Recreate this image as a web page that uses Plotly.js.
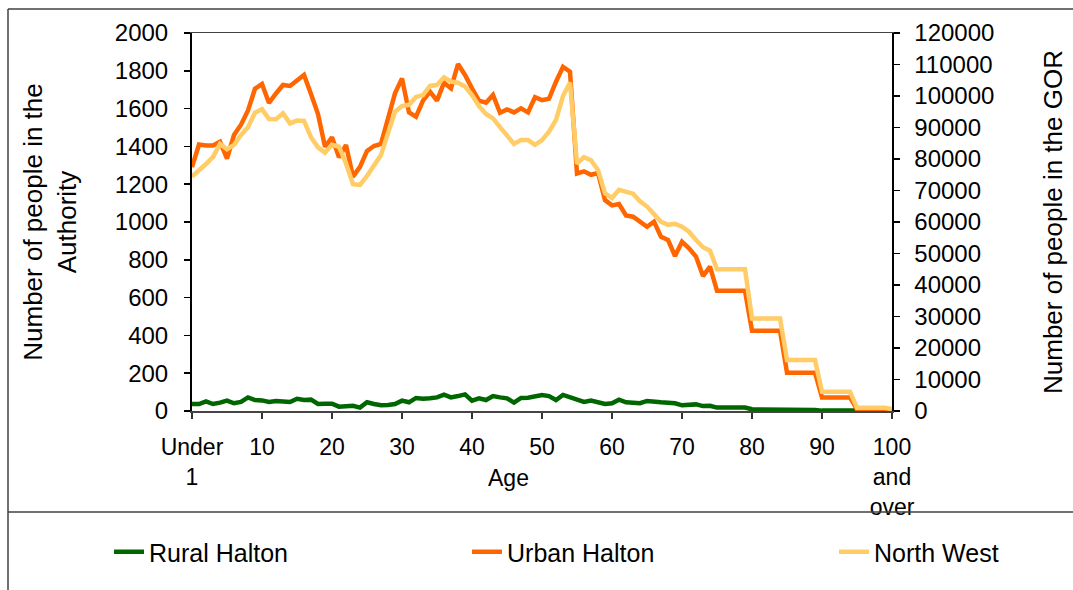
<!DOCTYPE html>
<html>
<head>
<meta charset="utf-8">
<script src="https://cdn.plot.ly/plotly-3.0.1.min.js"></script>
<style>html,body{margin:0;padding:0;background:#fff;}#chart{width:1073px;height:590px;}</style>
</head>
<body>
<div id="chart"></div>
<script>
var categories = ["Under 1","1","2","3","4","5","6","7","8","9","10","11","12","13","14","15","16","17","18","19","20","21","22","23","24","25","26","27","28","29","30","31","32","33","34","35","36","37","38","39","40","41","42","43","44","45","46","47","48","49","50","51","52","53","54","55","56","57","58","59","60","61","62","63","64","65","66","67","68","69","70","71","72","73","74","75","76","77","78","79","80","81","82","83","84","85","86","87","88","89","90","91","92","93","94","95","96","97","98","99","100 and over"];

var ruralHalton = [37,37,51,37,44,55,41,48,72,58,56,48,53,48,48,65,58,60,37,39,39,23,26,28,18,46,37,30,32,37,55,46,69,65,67,72,86,72,79,88,55,67,58,79,72,67,44,69,70,77,85,79,58,85,72,58,48,55,44,37,41,60,46,44,41,53,48,46,44,41,30,35,35,26,28,18,18,18,18,18,9,9,9,9,9,5,5,5,5,5,2,2,2,2,2,2,2,2,2,2,2];

var urbanHalton = [1290,1410,1405,1405,1425,1335,1460,1515,1590,1705,1730,1630,1680,1725,1720,1750,1778,1677,1571,1398,1448,1342,1407,1240,1292,1376,1402,1413,1557,1681,1760,1580,1557,1642,1690,1642,1737,1707,1836,1778,1707,1642,1631,1672,1578,1596,1580,1601,1580,1660,1645,1652,1742,1821,1795,1257,1268,1250,1259,1116,1088,1095,1035,1028,1002,975,1002,922,905,820,896,861,817,714,764,636,636,636,636,636,425,425,425,425,425,203,203,203,203,203,72,72,72,72,72,8,8,8,8,8,5];

var northWest = [74400,76300,78400,80700,84800,83100,84500,87600,90100,94700,95800,92700,92600,94500,91300,92200,92100,86900,83700,82000,84500,83900,78600,72000,71800,74600,77900,81300,88200,95000,96800,97200,99700,100300,103200,103500,105900,104600,104200,103000,100300,96800,94300,92900,90100,87300,84800,86000,86000,84500,86000,88700,92400,100000,104300,78500,80600,79600,76500,69100,67600,70200,69600,69000,66600,64900,62500,60100,59100,59400,58500,56900,54300,52000,50900,45000,45000,45000,45000,45000,29400,29400,29400,29400,29400,16200,16200,16200,16200,16200,6100,6100,6100,6100,6100,1050,1050,1050,1050,1050,600];

var xTickText = ["Under<br>1","10","20","30","40","50","60","70","80","90","100<br>and<br>over"];
var seriesNames = ["Rural Halton","Urban Halton","North West"];

var W = 1073, H = 590;
var M = {l:192, r:181, t:33, b:179, autoexpand: false};
var plotW = W - M.l - M.r, plotH = H - M.t - M.b;
function px(x){ return (x - M.l) / plotW; }
function py(y){ return (H - M.b - y) / plotH; }

var tickVals = [];
for (var i = 0; i < categories.length; i += 10) tickVals.push(categories[i]);

var FONT = "Liberation Sans, Arial, sans-serif";

var traces = [
  {x: categories, y: ruralHalton, name: seriesNames[0], type: "scatter", mode: "lines",
   line: {color: "#006600", width: 4.5}, yaxis: "y", legendwidth: 313},
  {x: categories, y: urbanHalton, name: seriesNames[1], type: "scatter", mode: "lines",
   line: {color: "#FF6600", width: 4.5}, yaxis: "y", legendwidth: 322},
  {x: categories, y: northWest, name: seriesNames[2], type: "scatter", mode: "lines",
   line: {color: "#FFCC66", width: 4.5}, yaxis: "y2", legendwidth: 124}
];

var layout = {
  width: W, height: H, autosize: false,
  margin: M,
  paper_bgcolor: "#ffffff", plot_bgcolor: "#ffffff",
  font: {family: FONT, color: "#000000", size: 24},
  showlegend: true,
  legend: {
    orientation: "h", xref: "paper", yref: "paper",
    x: px(109), y: py(552), xanchor: "left", yanchor: "middle",
    font: {family: FONT, size: 25, color: "#000"},
    entrywidthmode: "pixels",
    bgcolor: "rgba(0,0,0,0)", traceorder: "normal"
  },
  xaxis: {
    type: "category", range: [0, categories.length - 1],
    tickmode: "array", tickvals: tickVals, ticktext: xTickText, tickangle: 0,
    ticks: "outside", ticklen: 6, tickcolor: "#333", tickwidth: 1.5,
    showline: true, linecolor: "#444", linewidth: 1.5, mirror: true,
    showgrid: false, zeroline: false,
    tickfont: {family: FONT, size: 23, color: "#000"},
    ticklabelstandoff: 9
  },
  yaxis: {
    range: [0, 2000], dtick: 200, tick0: 0,
    ticks: "outside", ticklen: 6, tickcolor: "#000", tickwidth: 1.5,
    showline: true, linecolor: "#000", linewidth: 2,
    showgrid: false, zeroline: false,
    tickfont: {family: FONT, size: 24, color: "#000"},
    ticklabelstandoff: 11,
    title: {text: "Number of people in the<br>Authority", font: {family: FONT, size: 26, color: "#000"}, standoff: 31}
  },
  yaxis2: {
    overlaying: "y", side: "right",
    range: [0, 120000], dtick: 10000, tick0: 0, tickformat: "d",
    ticks: "outside", ticklen: 6, tickcolor: "#000", tickwidth: 1.5,
    showline: true, linecolor: "#000", linewidth: 1.5,
    showgrid: false, zeroline: false,
    tickfont: {family: FONT, size: 24, color: "#000"},
    ticklabelstandoff: 10,
    title: {text: "Number of people in the GOR", font: {family: FONT, size: 26, color: "#000"}, standoff: 50}
  },
  annotations: [
    {text: "Age", xref: "paper", yref: "paper", x: px(508), y: py(478),
     xanchor: "center", yanchor: "middle", showarrow: false,
     font: {family: FONT, size: 23, color: "#000"}}
  ],
  shapes: [
    {type: "line", xref: "paper", yref: "paper", x0: px(8), x1: px(1090), y0: py(9), y1: py(9), line: {color: "#404040", width: 1.5}},
    {type: "line", xref: "paper", yref: "paper", x0: px(8), x1: px(8), y0: py(9), y1: py(610), line: {color: "#404040", width: 1.5}},
    {type: "line", xref: "paper", yref: "paper", x0: px(8), x1: px(1090), y0: py(512), y1: py(512), line: {color: "#404040", width: 1.5}}
  ]
};

Plotly.newPlot("chart", traces, layout, {staticPlot: true, displayModeBar: false});
</script>
</body>
</html>
